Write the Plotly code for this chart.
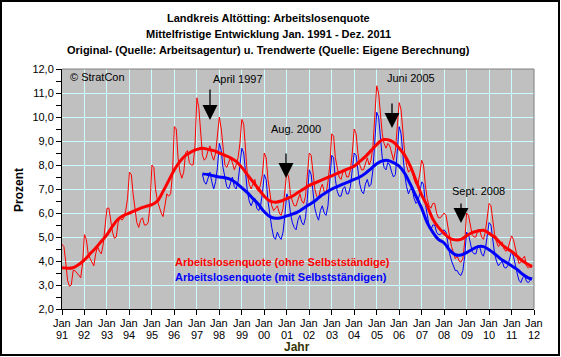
import plotly.graph_objects as go

# ---------------- data ----------------
years = list(range(1991, 2012))
year_labels = ["91","92","93","94","95","96","97","98","99","00","01","02","03","04","05","06","07","08","09","10","11","12"]

series_names = ["Arbeitslosenquote (ohne Selbstständige)", "Arbeitslosenquote (mit Selbstständigen)"]

# monthly original values, Jan 1991 - Dec 2011 (ohne Selbstständige)
red_orig = [
    4.7, 4.6, 4.0, 3.2, 2.95, 3.0, 3.6, 3.6, 3.5, 3.4, 3.3, 3.9,      # 1991
    5.1, 4.9, 4.3, 4.1, 3.95, 3.8, 4.3, 4.6, 4.4, 4.3, 4.7, 5.5,      # 1992
    6.2, 6.2, 5.6, 5.2, 4.95, 5.0, 5.6, 5.8, 5.7, 5.8, 6.1, 6.6,      # 1993
    7.7, 7.6, 6.8, 6.1, 5.6, 5.4, 5.7, 5.8, 5.5, 5.5, 5.6, 6.3,       # 1994
    8.0, 7.9, 7.0, 6.5, 6.2, 6.0, 5.85, 6.4, 6.8, 6.7, 6.8, 7.6,      # 1995
    9.6, 9.5, 8.3, 7.7, 7.45, 7.7, 8.5, 8.6, 8.1, 8.0, 8.0, 8.8,      # 1996
    10.8, 10.4, 9.3, 8.4, 8.2, 8.3, 8.6, 8.8, 8.4, 8.2, 8.5, 9.2,     # 1997
    10.0, 9.5, 8.8, 8.0, 7.9, 8.1, 8.3, 8.1, 7.8, 8.0, 8.3, 8.9,      # 1998
    9.9, 9.7, 8.6, 7.6, 7.2, 7.0, 7.2, 7.4, 7.0, 6.9, 7.2, 7.6,       # 1999
    8.5, 8.3, 7.4, 6.8, 6.3, 6.1, 6.2, 6.3, 6.0, 5.9, 6.2, 6.9,       # 2000
    7.7, 7.5, 6.8, 6.5, 6.3, 6.3, 6.6, 6.8, 6.5, 6.4, 6.7, 7.5,       # 2001
    8.5, 8.4, 7.6, 7.0, 6.7, 6.6, 7.0, 7.2, 6.9, 6.8, 7.3, 8.0,       # 2002
    9.3, 9.2, 8.3, 7.8, 7.5, 7.4, 7.7, 7.8, 7.5, 7.5, 7.8, 8.5,       # 2003
    9.5, 9.3, 8.5, 8.0, 7.8, 7.8, 8.1, 8.3, 8.0, 8.2, 8.8, 10.0,      # 2004
    11.3, 11.0, 10.1, 9.3, 8.9, 8.7, 8.9, 8.8, 8.5, 8.2, 8.6, 9.5,    # 2005
    10.6, 10.3, 9.4, 8.5, 8.0, 7.7, 7.8, 7.8, 7.4, 7.2, 7.2, 7.6,     # 2006
    8.2, 8.0, 7.2, 6.6, 6.3, 6.2, 6.4, 6.4, 6.0, 5.8, 5.8, 5.9,       # 2007
    6.0, 5.9, 5.4, 5.0, 4.6, 4.3, 4.1, 4.2, 4.0, 3.95, 4.1, 4.8,      # 2008
    6.0, 5.9, 5.5, 5.1, 5.0, 5.0, 5.3, 5.3, 5.0, 4.9, 5.2, 5.7,       # 2009
    6.4, 6.3, 5.7, 5.1, 4.8, 4.6, 4.7, 4.8, 4.5, 4.4, 4.5, 4.8,       # 2010
    5.05, 4.9, 4.5, 4.2, 3.9, 3.95, 4.1, 4.2, 3.8, 3.7, 3.8, 3.85,    # 2011
]

# monthly original values, Apr 1997 - Dec 2011 (mit Selbstständigen)
blue_start = (1997, 4)
blue_orig = [
    7.6, 7.3, 7.2, 7.5, 7.7, 7.3, 7.0, 7.3, 7.9,                      # 1997 Apr-Dec
    8.9, 8.6, 7.9, 7.4, 7.1, 7.0, 7.3, 7.5, 7.1, 7.0, 7.3, 7.9,       # 1998
    8.7, 8.5, 7.6, 6.9, 6.5, 6.3, 6.5, 6.6, 6.2, 6.1, 6.3, 6.8,       # 1999
    7.6, 7.4, 6.5, 5.9, 5.4, 5.0, 4.9, 5.2, 5.0, 4.9, 5.2, 5.9,       # 2000
    6.8, 6.6, 6.0, 5.6, 5.4, 5.3, 5.7, 5.9, 5.6, 5.5, 5.8, 6.6,       # 2001
    7.8, 7.6, 6.8, 6.2, 5.9, 5.7, 6.1, 6.3, 6.0, 5.9, 6.3, 7.2,       # 2002
    8.4, 8.3, 7.4, 6.9, 6.7, 6.7, 7.0, 7.1, 6.8, 6.8, 7.1, 7.8,       # 2003
    8.5, 8.4, 7.7, 7.2, 6.9, 6.8, 7.2, 7.4, 7.1, 7.2, 7.8, 9.0,       # 2004
    10.2, 10.0, 9.1, 8.3, 7.9, 7.8, 8.1, 8.0, 7.7, 7.5, 7.6, 8.5,     # 2005
    9.6, 9.3, 8.4, 7.6, 7.1, 6.8, 7.0, 7.0, 6.6, 6.4, 6.5, 6.8,       # 2006
    7.3, 7.2, 6.4, 5.9, 5.5, 5.3, 5.5, 5.5, 5.2, 5.1, 5.1, 5.2,       # 2007
    5.3, 5.2, 4.7, 4.3, 4.0, 3.8, 3.6, 3.6, 3.45, 3.4, 3.6, 4.2,      # 2008
    5.2, 5.1, 4.7, 4.4, 4.3, 4.3, 4.6, 4.6, 4.3, 4.2, 4.5, 5.0,       # 2009
    5.6, 5.5, 4.9, 4.3, 4.0, 3.8, 3.9, 4.0, 3.75, 3.7, 3.8, 4.1,      # 2010
    4.4, 4.2, 3.8, 3.5, 3.2, 3.1, 3.3, 3.4, 3.15, 3.1, 3.2, 3.3,      # 2011
]

# trend values, quarterly (Jan, Apr, Jul, Oct) plus Dec 2011
trend_months = [1, 4, 7, 10]
red_trend = [
    3.72, 3.70, 3.72, 3.85,   # 1991
    4.05, 4.3, 4.54, 4.82,    # 1992
    5.1, 5.45, 5.75, 5.9,     # 1993
    6.0, 6.1, 6.2, 6.28,      # 1994
    6.35, 6.5, 6.9, 7.35,     # 1995
    7.8, 8.15, 8.4, 8.55,     # 1996
    8.65, 8.7, 8.65, 8.6,     # 1997
    8.5, 8.4, 8.3, 8.15,      # 1998
    7.9, 7.6, 7.3, 7.0,       # 1999
    6.7, 6.5, 6.45, 6.5,      # 2000
    6.6, 6.7, 6.85, 7.0,      # 2001
    7.15, 7.25, 7.35, 7.45,   # 2002
    7.55, 7.65, 7.75, 7.85,   # 2003
    7.95, 8.15, 8.35, 8.6,    # 2004
    8.85, 9.05, 9.05, 8.95,   # 2005
    8.7, 8.4, 7.95, 7.35,     # 2006
    6.75, 6.3, 5.75, 5.4,     # 2007
    5.15, 4.95, 4.88, 4.9,    # 2008
    5.05, 5.18, 5.25, 5.28,   # 2009
    5.15, 5.0, 4.75, 4.55,    # 2010
    4.4, 4.2, 4.0, 3.85,      # 2011
]
red_trend_end = 3.75

blue_trend = [
    7.63, 7.6, 7.55,          # 1997 Apr-Oct
    7.5, 7.47, 7.4, 7.25,     # 1998
    7.05, 6.85, 6.6, 6.35,    # 1999
    6.05, 5.85, 5.78, 5.8,    # 2000
    5.88, 5.95, 6.05, 6.2,    # 2001
    6.35, 6.5, 6.7, 6.85,     # 2002
    7.0, 7.1, 7.2, 7.3,       # 2003
    7.4, 7.5, 7.65, 7.85,     # 2004
    8.05, 8.17, 8.19, 8.1,    # 2005
    7.95, 7.65, 7.2, 6.7,     # 2006
    6.2, 5.6, 5.2, 4.9,       # 2007
    4.75, 4.45, 4.26, 4.25,   # 2008
    4.35, 4.48, 4.6, 4.6,     # 2009
    4.47, 4.3, 4.1, 3.95,     # 2010
    3.8, 3.65, 3.45, 3.3,     # 2011
]
blue_trend_end = 3.25

events = ["April 1997", "Aug. 2000", "Juni 2005", "Sept. 2008"]

# ---------------- dates ----------------
monthly = [f"{y}-{m:02d}-01" for y in years for m in range(1, 13)]
blue_monthly = [d for d in monthly if d >= f"{blue_start[0]}-{blue_start[1]:02d}-01"]
red_tdates = [f"{y}-{m:02d}-01" for y in years for m in trend_months] + ["2011-12-01"]
blue_tdates = [d for d in red_tdates[:-1] if d >= "1997-04-01"] + ["2011-12-01"]

RED = "#ff0000"
BLUE = "#0000ff"
FONT = "Liberation Sans"

fig = go.Figure()
fig.add_trace(go.Scatter(x=monthly, y=red_orig, mode="lines", line=dict(color=RED, width=1), name=series_names[0] + " Original"))
fig.add_trace(go.Scatter(x=blue_monthly, y=blue_orig, mode="lines", line=dict(color=BLUE, width=1), name=series_names[1] + " Original"))
fig.add_trace(go.Scatter(x=red_tdates, y=red_trend + [red_trend_end], mode="lines", line=dict(color=RED, width=3, shape="spline"), name=series_names[0] + " Trend"))
fig.add_trace(go.Scatter(x=blue_tdates, y=blue_trend + [blue_trend_end], mode="lines", line=dict(color=BLUE, width=3, shape="spline"), name=series_names[1] + " Trend"))

W, H = 561, 357
L, R, T, B = 62, 534, 69, 309

def px(x, y):
    return (x - L) / (R - L), (B - y) / (B - T)

tickvals = [f"{y}-01-01" for y in range(1991, 2013)]

fig.update_layout(
    width=W, height=H,
    margin=dict(l=L, r=W - R, t=T, b=H - B),
    paper_bgcolor="white", plot_bgcolor="#c0c0c0",
    showlegend=False, separators=",.",
    font=dict(family=FONT, size=11, color="black"),
)
fig.update_xaxes(
    range=["1991-01-01", "2012-01-01"], tickvals=tickvals, showticklabels=False,
    showgrid=True, gridcolor="#ccffff", gridwidth=1,
    showline=True, linecolor="black", linewidth=1,
    ticks="outside", ticklen=5, tickcolor="black", zeroline=False,
)
fig.update_yaxes(
    range=[2, 12], dtick=1, tick0=2, tickformat=".1f",
    showgrid=True, gridcolor="#ccffff", gridwidth=1,
    showline=True, linecolor="black", linewidth=1,
    ticks="outside", ticklen=5, tickcolor="black",
    minor=dict(dtick=0.5, ticks="outside", ticklen=5, tickcolor="black", showgrid=False),
    tickfont=dict(size=11, color="black"), zeroline=False,
)

shapes = []
shapes.append(dict(type="line", xref="paper", yref="paper", x0=0, y0=1, x1=1, y1=1, line=dict(color="#808080", width=1)))
shapes.append(dict(type="line", xref="paper", yref="paper", x0=1, y0=0, x1=1, y1=1, line=dict(color="#808080", width=1)))
fx0, fy0 = px(1, 355)
fx1, fy1 = px(559, 1)
shapes.append(dict(type="rect", xref="paper", yref="paper", x0=fx0, y0=fy0, x1=fx1, y1=fy1, line=dict(color="black", width=2)))
fig.update_layout(shapes=shapes)

ann = []
def text(x, y, s, size=11, bold=False, color="black", angle=0, xanchor="center", xref="paper"):
    if xref == "paper":
        ax_, ay_ = px(x, y)
    else:
        ax_, ay_ = x, px(0, y)[1]
    ann.append(dict(xref=xref, yref="paper", x=ax_, y=ay_, text=(f"<b>{s}</b>" if bold else s),
                    showarrow=False, font=dict(family=FONT, size=size, color=color),
                    textangle=angle, xanchor=xanchor, yanchor="middle"))

# x tick labels (two rows: "Jan" and year)
for tv, yl in zip(tickvals, year_labels):
    text(tv, 323, "Jan", xref="x")
    text(tv, 335, yl, xref="x")

# title
text(268, 18, "Landkreis Altötting: Arbeitslosenquote", size=11, bold=True)
text(268, 34, "Mittelfristige Entwicklung Jan. 1991 - Dez. 2011", size=11, bold=True)
text(268, 50, "Original- (Quelle: Arbeitsagentur) u. Trendwerte (Quelle: Eigene Berechnung)", size=11, bold=True)
# axis titles
text(297, 347, "Jahr", size=12, bold=True, color="#333300")
text(19, 190, "Prozent", size=12, bold=True, angle=-90)
# copyright
text(68, 77, "© StratCon", size=11, xanchor="left")
# legend texts
text(173, 262, series_names[0], size=11, bold=True, color=RED, xanchor="left")
text(173, 277, series_names[1], size=11, bold=True, color=BLUE, xanchor="left")

event_pos = [(237.7, 79, 210, 88, 120), (295.5, 129, 286, 152, 178), (411, 78, 392, 102, 128), (478, 191, 461, 202, 223)]
for name, (tx, ty, axx, y0, y1) in zip(events, event_pos):
    text(tx, ty, name, size=11)
    px_, py_ = px(axx, y1)
    ann.append(dict(xref="paper", yref="paper", x=px_, y=py_, text="", showarrow=True,
                    ax=0, ay=-(y1 - y0), arrowhead=2, arrowsize=2.3, arrowwidth=1.3, arrowcolor="black"))

fig.update_layout(annotations=ann)
fig.write_html("out.html", config={"displayModeBar": False},
               post_script="document.body.style.margin='0';document.body.style.overflow='hidden';")
